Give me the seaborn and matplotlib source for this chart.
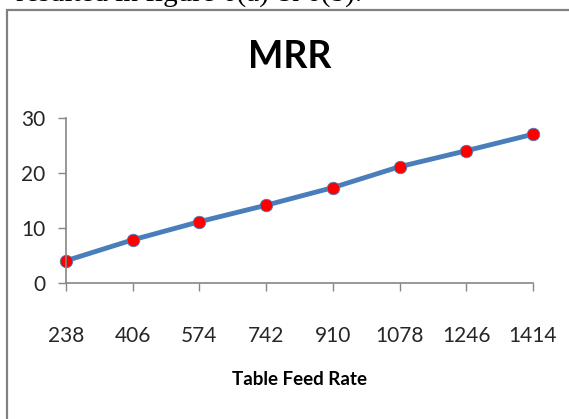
import matplotlib
matplotlib.use("Agg")
import matplotlib.pyplot as plt
import seaborn as sns
import pandas as pd
from matplotlib.patches import Rectangle

feed_rates = ["238", "406", "574", "742", "910", "1078", "1246", "1414"]
mrr = [4.1, 7.9, 11.2, 14.2, 17.4, 21.2, 24.1, 27.1]
y_ticks = [0, 10, 20, 30]

df = pd.DataFrame({"Table Feed Rate": feed_rates, "MRR": mrr})
df["pos"] = range(len(feed_rates))

sns.set_style("white")
plt.rcParams["font.family"] = ["Lato", "DejaVu Sans"]
W, H = 569, 419
fig = plt.figure(figsize=(W / 100, H / 100), dpi=100)

def fx(px):
    return px / W

def fy(py):
    return 1 - py / H

ax = fig.add_axes([fx(66), fy(283.3), fx(533) - fx(66), fy(118.3) - fy(283.3)])

sns.lineplot(data=df, x="pos", y="MRR", ax=ax, color="#4A7EBB", linewidth=3.5,
             marker="o", markersize=9, markerfacecolor="#FF0000",
             markeredgecolor="#4A7EBB", markeredgewidth=0.6, clip_on=False)

ax.set_xlim(0, len(feed_rates) - 1)
ax.set_ylim(0, 30)
ax.set_xticks(range(len(feed_rates)))
ax.set_xticklabels(feed_rates)
ax.set_yticks(y_ticks)

for lab in ax.get_xticklabels() + ax.get_yticklabels():
    lab.set_fontsize(15)
    lab.set_color("#262626")

ax.tick_params(axis="x", direction="out", length=6, width=1, color="#868686", pad=25, bottom=True)
ax.tick_params(axis="y", direction="out", length=6, width=1, color="#868686", pad=9, left=True)

for s in ["top", "right"]:
    ax.spines[s].set_visible(False)
for s in ["left", "bottom"]:
    ax.spines[s].set_color("#868686")
    ax.spines[s].set_linewidth(1.2)

ax.set_xlabel("Table Feed Rate", fontweight="bold", fontsize=13.5,
              color="black", labelpad=18)
ax.set_ylabel("")

fig.text(fx(289.5), fy(57.5), "MRR", fontweight="bold", fontsize=27,
         ha="center", va="center", color="black")

# chart border
fig.patches.append(Rectangle((fx(7), -0.1), 1.2, fy(10) + 0.1, transform=fig.transFigure,
                             fill=False, edgecolor="#808080", linewidth=1.6))

# clipped body text above chart
fig.text(fx(362), fy(2), "resulted in figure 6(a) & 6(b).", family=["Liberation Serif"],
         fontsize=21, ha="right", va="baseline", color="black")

fig.savefig("out.png", dpi=100)
